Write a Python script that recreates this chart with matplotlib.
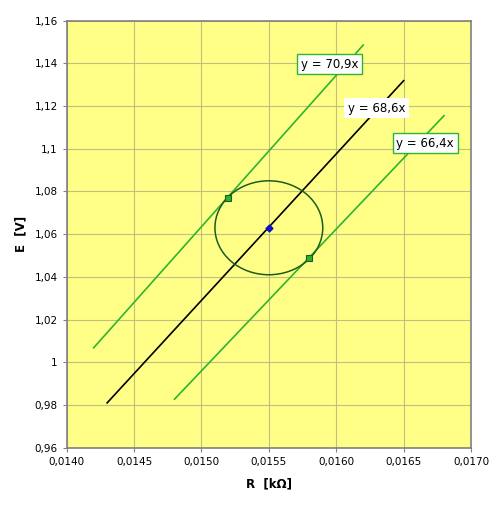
import numpy as np
import matplotlib
matplotlib.use("Agg")
import matplotlib.pyplot as plt
from matplotlib.patches import Ellipse

# fitted lines: slope, x start, x end
slopes = [70.9, 68.6, 66.4]
x_start = [0.0142, 0.0143, 0.0148]
x_end = [0.0162, 0.0165, 0.0168]
line_labels = ['y = 70,9x', 'y = 68,6x', 'y = 66,4x']

# measured point and its uncertainty
center_R = 0.0155
center_E = 1.063
dR = 0.0004
dE = 0.022

# extreme points touching the ellipse
corner_R = [0.0152, 0.0158]
corner_E = [1.077, 1.049]

xticks = [0.0140, 0.0145, 0.0150, 0.0155, 0.0160, 0.0165, 0.0170]
xticklabels = ['0,0140', '0,0145', '0,0150', '0,0155', '0,0160', '0,0165', '0,0170']
yticks = [0.96, 0.98, 1.00, 1.02, 1.04, 1.06, 1.08, 1.10, 1.12, 1.14, 1.16]
yticklabels = ['0,96', '0,98', '1', '1,02', '1,04', '1,06', '1,08', '1,1', '1,12', '1,14', '1,16']

green = '#2db52d'
dark_green = '#1a5e1a'

fig = plt.figure(figsize=(5.03, 5.07), dpi=100)
ax = fig.add_axes([0.1326, 0.117, 0.8038, 0.8422])
ax.set_facecolor('#ffff88')

colors = [green, 'black', green]
for k, c, a, b in zip(slopes, colors, x_start, x_end):
    xs = np.array([a, b])
    ax.plot(xs, k * xs, color=c, lw=1.2, zorder=3)

ax.add_patch(Ellipse((center_R, center_E), 2 * dR, 2 * dE, fill=False,
                     edgecolor=dark_green, lw=1.1, zorder=4))
ax.plot([center_R], [center_E], marker='D', ms=3.5, color='#1010c0', zorder=5)
ax.plot(corner_R, corner_E, ls='none', marker='s', ms=4.5, mfc='#30b030',
        mec=dark_green, mew=0.8, zorder=5)

# equation labels
label_pos = [(0.01595, 1.1397), (0.01630, 1.1191), (0.01666, 1.1027)]
edges = [green, 'none', green]
for (lx, ly), txt, ec in zip(label_pos, line_labels, edges):
    ax.text(lx, ly, txt, ha='center', va='center', fontsize=8.5, zorder=6,
            bbox=dict(boxstyle='square,pad=0.3', fc='white', ec=ec, lw=1))

ax.set_xlim(0.0140, 0.0170)
ax.set_ylim(0.96, 1.16)
ax.set_xticks(xticks)
ax.set_xticklabels(xticklabels)
ax.set_yticks(yticks)
ax.set_yticklabels(yticklabels)
ax.tick_params(labelsize=7.5, length=3, color='#808080', direction='out')
ax.grid(True, color='#c2be7c', lw=0.8)
ax.set_axisbelow(True)
for s in ax.spines.values():
    s.set_color('#808080')
    s.set_linewidth(1.2)

ax.set_xlabel('R  [kΩ]', fontsize=8.5, fontweight='bold', labelpad=8)
ax.set_ylabel('E  [V]', fontsize=8.5, fontweight='bold', labelpad=5)

fig.savefig('out.png', dpi=100)
